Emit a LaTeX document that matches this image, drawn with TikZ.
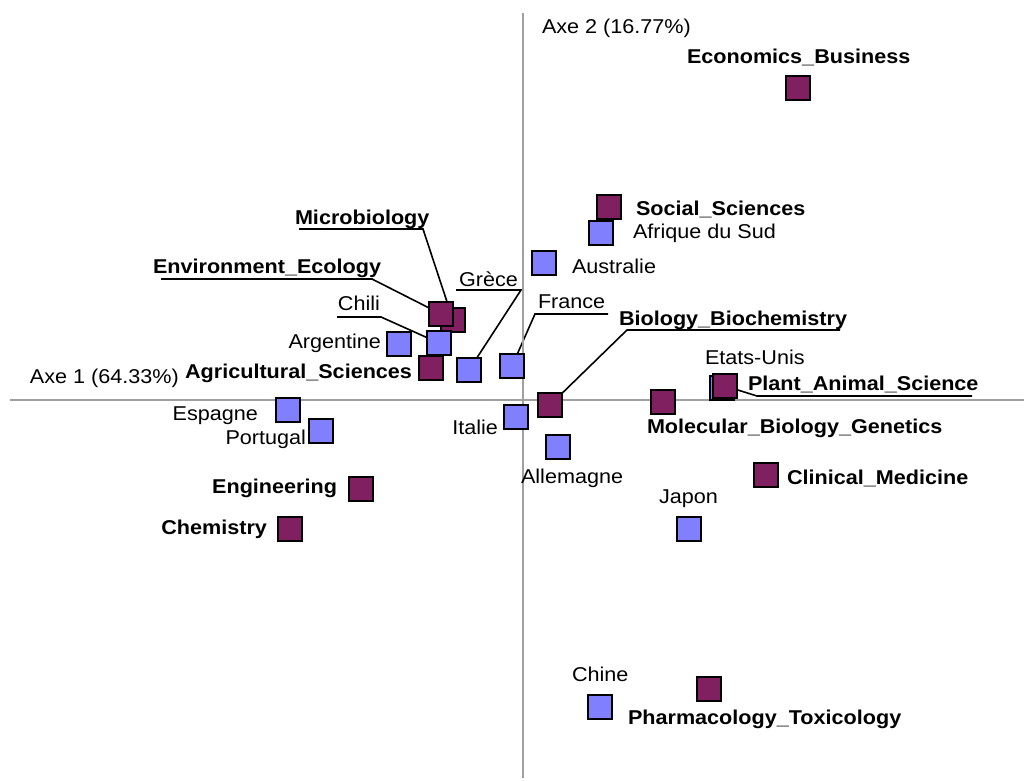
\documentclass[tikz,border=0pt]{standalone}
\usepackage{fontspec}
\setmainfont[FakeStretch=1.08]{Liberation Sans}
\usetikzlibrary{backgrounds}
\definecolor{purp}{RGB}{128,32,96}
\definecolor{blu}{RGB}{128,128,255}
\definecolor{axisgray}{RGB}{160,160,160}
\pgfdeclarelayer{paper}
\pgfsetlayers{paper,background,main}
\begin{document}
\begin{tikzpicture}[x=1pt,y=-1pt,
  sq/.style={draw=black,line width=1.8pt,minimum size=23.5pt,inner sep=0pt,outer sep=0pt},
  cty/.style={sq,fill=blu},
  dom/.style={sq,fill=purp},
  lab/.style={font=\fontsize{20}{24}\selectfont,inner sep=0pt,outer sep=0pt},
  blab/.style={font=\fontsize{20}{24}\selectfont\bfseries,inner sep=0pt,outer sep=0pt},
  leader/.style={draw=black,line width=1.6pt},
  axisline/.style={draw=axisgray,line width=1.3pt}]
\begin{pgfonlayer}{paper}
\fill[white] (0,0) rectangle (1026,780);
\end{pgfonlayer}
\useasboundingbox (0,0) rectangle (1026,780);

% axes
\coordinate (hL) at (10,400);
\coordinate (hR) at (1024,400);
\coordinate (vT) at (523,13);
\coordinate (vB) at (523,778);
\draw[axisline] (hL) -- (hR);
\draw[axisline] (vT) -- (vB);
\node[lab,anchor=base west] (ax1) at (30,383) {Axe 1 (64.33\%)};
\node[lab,anchor=base west] (ax2) at (542,33) {Axe 2 (16.77\%)};

% squares (order matters for overlaps)
\node[cty] (sAfr) at (601,233) {};
\node[cty] (sAus) at (544,263) {};
\node[cty] (sArg) at (399,344) {};
\node[cty] (sGre) at (469,370) {};
\node[cty] (sFra) at (512,366) {};
\node[cty] (sIta) at (516,417) {};
\node[cty] (sAll) at (558,447) {};
\node[cty] (sEsp) at (288,410) {};
\node[cty] (sPor) at (321,431) {};
\node[cty] (sJap) at (689,529) {};
\node[cty] (sChi) at (600,707) {};
\node[cty] (sEtU) at (722,388) {};

\node[dom] (sEco) at (798,88) {};
\node[dom] (sSoc) at (609,207) {};
\node[dom] (sMic) at (453,320) {};
\node[dom] (sEnv) at (441,314) {};
\node[cty] (sChl) at (439,343) {};
\node[dom] (sAgr) at (431,368) {};
\node[dom] (sBio) at (550,405) {};
\node[dom] (sMol) at (663,402) {};
\node[dom] (sPla) at (725,386) {};
\node[dom] (sCli) at (766,475) {};
\node[dom] (sEng) at (361,489) {};
\node[dom] (sChe) at (290,529) {};
\node[dom] (sPha) at (709,689) {};

% labels
\node[blab,anchor=base west] (lEco) at (687,63) {Economics\_Business};
\node[blab,anchor=base west] (lSoc) at (636,215) {Social\_Sciences};
\node[lab,anchor=base west] (lAfr) at (633,238) {Afrique du Sud};
\node[lab,anchor=base west] (lAus) at (572,273) {Australie};
\node[blab,anchor=base west] (lMic) at (295,224) {Microbiology};
\node[blab,anchor=base west] (lEnv) at (153,273) {Environment\_Ecology};
\node[lab,anchor=base east] (lChl) at (380,310) {Chili};
\node[lab,anchor=base west] (lGre) at (459,286) {Grèce};
\node[lab,anchor=base west] (lFra) at (538,308) {France};
\node[lab,anchor=base east] (lArg) at (381,348) {Argentine};
\node[blab,anchor=base east] (lAgr) at (412,378) {Agricultural\_Sciences};
\node[blab,anchor=base west] (lBio) at (619,325) {Biology\_Biochemistry};
\node[lab,anchor=base west] (lEtU) at (705,364) {Etats-Unis};
\node[blab,anchor=base west] (lPla) at (748,390) {Plant\_Animal\_Science};
\node[blab,anchor=base west] (lMol) at (647,433) {Molecular\_Biology\_Genetics};
\node[lab,anchor=base east] (lEsp) at (258,420) {Espagne};
\node[lab,anchor=base east] (lPor) at (306,444) {Portugal};
\node[blab,anchor=base east] (lEng) at (337,493) {Engineering};
\node[blab,anchor=base east] (lChe) at (267,534) {Chemistry};
\node[lab,anchor=base east] (lIta) at (498,434) {Italie};
\node[lab,anchor=base west] (lAll) at (521,483) {Allemagne};
\node[blab,anchor=base west] (lCli) at (787,484) {Clinical\_Medicine};
\node[lab,anchor=base west] (lJap) at (659,503) {Japon};
\node[lab,anchor=base west] (lChn) at (572,681) {Chine};
\node[blab,anchor=base west] (lPha) at (628,724) {Pharmacology\_Toxicology};

% underline ends
\coordinate (uMicA) at (299,229); \coordinate (uMicB) at (423,229);
\coordinate (uEnvA) at (161,279); \coordinate (uEnvB) at (372,279);
\coordinate (uChlA) at (337,317); \coordinate (uChlB) at (381,317);
\coordinate (uGreA) at (456,290); \coordinate (uGreB) at (521,290);
\coordinate (uFraA) at (535,314); \coordinate (uFraB) at (608,314);
\coordinate (uBioA) at (627,330); \coordinate (uBioB) at (840,330);
\coordinate (uPlaA) at (757,396); \coordinate (uPlaB) at (972,396);

\begin{pgfonlayer}{background}
\draw[leader] (uMicA) -- (uMicB) -- (sMic.center);
\draw[leader] (uEnvA) -- (uEnvB) -- (sEnv.center);
\draw[leader] (uChlA) -- (uChlB) -- (sChl.center);
\draw[leader] (uGreA) -- (uGreB) -- (sGre.center);
\draw[leader] (uFraB) -- (uFraA) -- (sFra.center);
\draw[leader] (uBioB) -- (uBioA) -- (sBio.center);
\draw[leader] (uPlaB) -- (uPlaA) -- (sPla.center);
\end{pgfonlayer}
\end{tikzpicture}
\end{document}
